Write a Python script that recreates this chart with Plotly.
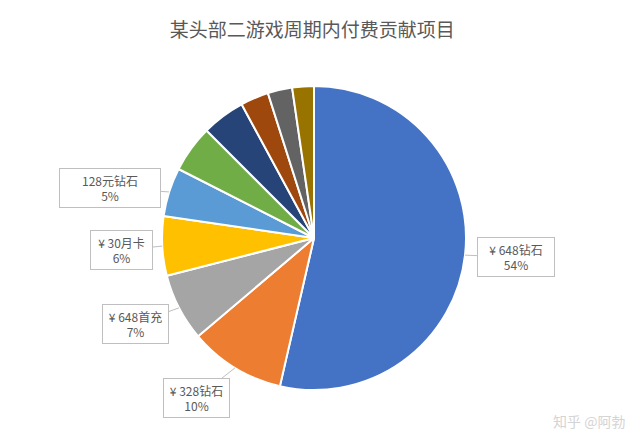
import math
import plotly.graph_objects as go

categories = ["¥ 648钻石", "¥ 328钻石", "¥ 648首充", "¥ 30月卡", "128元钻石",
              "其他1", "其他2", "其他3", "其他4", "其他5"]
values = [53.6, 10.2, 7.2, 6.3, 5.2, 5.0, 4.6, 3.0, 2.6, 2.3]
show_label = [True, True, True, True, True, False, False, False, False, False]
colors = ["#4472C4", "#ED7D31", "#A5A5A5", "#FFC000", "#5B9BD5",
          "#70AD47", "#264478", "#9E480E", "#636363", "#997300"]
title_text = "某头部二游戏周期内付费贡献项目"
watermark = "知乎 @阿勃"

W, H = 640, 448
cx, cy, r = 314, 238, 152

fig = go.Figure(go.Pie(
    labels=categories, values=values, sort=False, direction="clockwise",
    rotation=0, textinfo="none", hoverinfo="label+percent",
    marker=dict(colors=colors, line=dict(color="white", width=2)),
    domain=dict(x=[(cx - r) / W, (cx + r) / W],
                y=[(H - cy - r) / H, (H - cy + r) / H]),
    showlegend=False,
))

# box offsets (pixels) relative to the arrow tip and box widths for labelled slices
offsets = {0: (51, 2), 1: (-38, 30), 2: (-44, 16), 3: (-41, 4), 4: (-59, -4)}
box_w = {0: 68, 1: 57, 2: 57, 3: 53, 4: 92}

total = sum(values)
cum = 0.0
annotations = []
for i, v in enumerate(values):
    mid = (cum + v / 2) / total
    cum += v
    if not show_label[i]:
        continue
    ang = 2 * math.pi * mid
    tx = cx + r * math.sin(ang)
    ty = cy - r * math.cos(ang)
    ax, ay = offsets[i]
    pct = round(v / total * 100)
    annotations.append(dict(
        x=tx / W, y=1 - ty / H, xref="paper", yref="paper",
        text=f"{categories[i]}<br>{pct}%", showarrow=True, arrowhead=0,
        arrowcolor="#BFBFBF", arrowwidth=1, ax=ax, ay=ay,
        width=box_w[i], height=30,
        bordercolor="#BFBFBF", borderwidth=1, borderpad=4, bgcolor="white",
        font=dict(family="Noto Sans CJK SC", size=12, color="#595959"),
        align="center",
    ))

annotations.append(dict(
    x=589 / W, y=1 - 421 / H, xref="paper", yref="paper", text=watermark,
    xanchor="center", yanchor="middle",
    showarrow=False, font=dict(family="Noto Sans CJK SC", size=14, color="#D4D4D4"),
))

fig.update_layout(
    width=W, height=H, margin=dict(l=0, r=0, t=0, b=0),
    paper_bgcolor="white", plot_bgcolor="white",
    title=dict(text=title_text, x=0.488, xanchor="center", y=1 - 30 / H, yanchor="middle",
               font=dict(family="Noto Sans CJK SC", size=19, color="#595959")),
    annotations=annotations,
)

fig.write_html("out.html")
